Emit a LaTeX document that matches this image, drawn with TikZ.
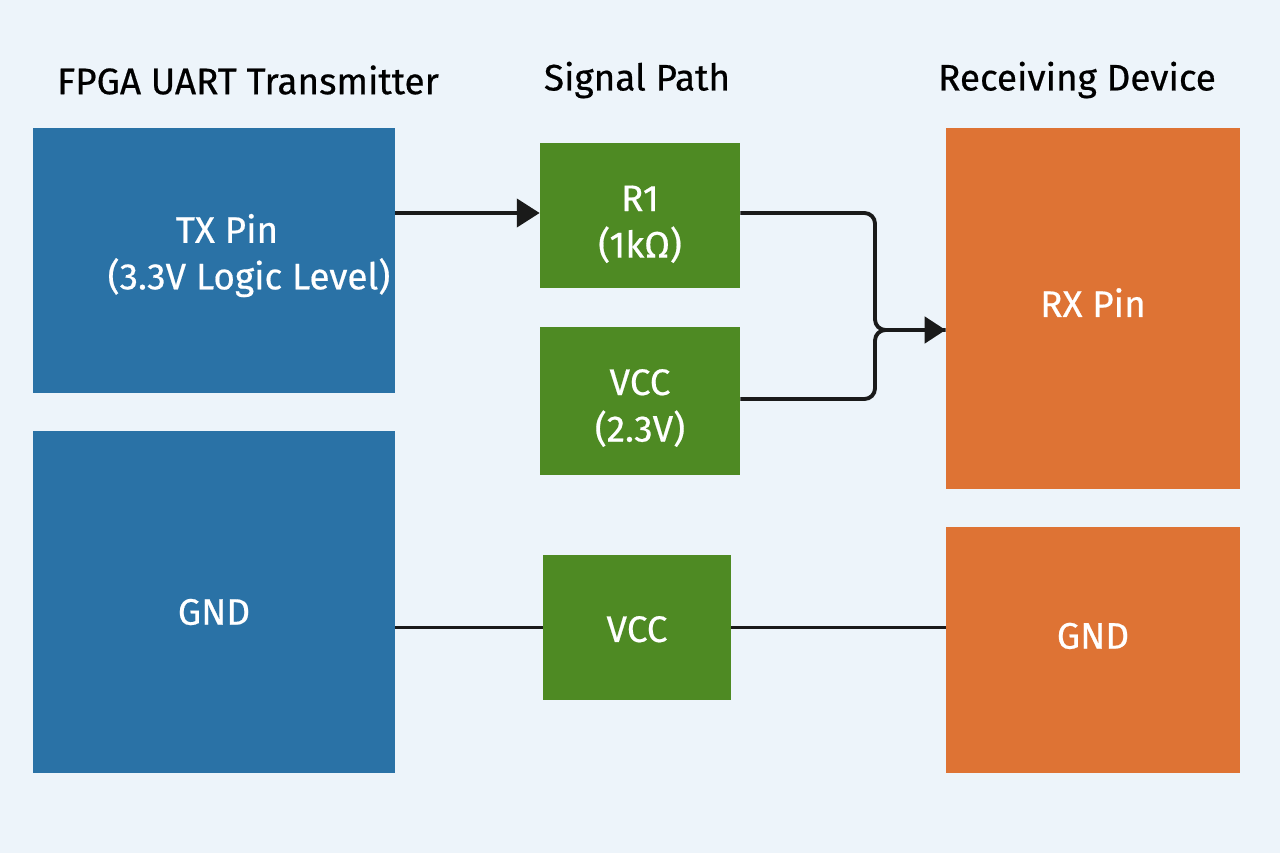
\documentclass[tikz,border=0pt]{standalone}
\usepackage{fontspec}
\setmainfont{Fira Sans}[FakeBold=0.5]
\usepackage{tikz}
\usepackage{xcolor}
\usetikzlibrary{arrows.meta,positioning}
\definecolor{bgblue}{HTML}{EDF4FA}
\definecolor{fpgablue}{HTML}{2A72A6}
\definecolor{pathgreen}{HTML}{4E8A23}
\definecolor{rxorange}{HTML}{DE7334}
\definecolor{wireblack}{HTML}{1A1A1A}
\tikzset{
    block/.style = {rectangle, inner sep=0pt},
    tx-block/.style = {block, fill=fpgablue},
    path-block/.style = {block, fill=pathgreen},
    rx-block/.style = {block, fill=rxorange},
    caption/.style = {text=white, align=center, font=\fontsize{21}{26.5}\selectfont},
    col-title/.style = {text=black, font=\fontsize{21}{25}\selectfont},
    wire/.style = {draw=wireblack, line width=2.2pt},
    wire-arrow/.style = {wire, -{Triangle[length=12pt,width=15pt]}},
}

\begin{document}
\begin{tikzpicture}
\fill[bgblue] (0,0) rectangle (25.6,-17.06);
\useasboundingbox (0,0) rectangle (25.6,-17.06);

% column titles
\node[col-title] (title-fpga) at (4.96,-1.6) {FPGA UART Transmitter};
\node[col-title] (title-path) at (12.74,-1.6) {Signal Path};
\node[col-title] (title-rx) at (21.54,-1.6) {Receiving Device};

% transmitter side
\node[tx-block, minimum width=7.24cm, minimum height=5.3cm,
      label={[caption, xshift=7.4pt, yshift=2.8pt]center:TX Pin\\\hspace*{25pt}(3.3V Logic Level)}] (tx) at (4.28,-5.21) {};
\node[tx-block, minimum width=7.24cm, minimum height=6.84cm,
      label={[caption, yshift=-5.7pt]center:GND}] (gnd-tx) at (4.28,-12.04) {};

% signal path
\node[path-block, minimum width=4cm, minimum height=2.9cm,
      label={[caption, yshift=-5pt]center:R1\\(1kΩ)}] (r1) at (12.8,-4.31) {};
\node[path-block, minimum width=4cm, minimum height=2.96cm,
      label={[caption, yshift=-4pt]center:VCC\\(2.3V)}] (vcc-top) at (12.8,-8.02) {};
\node[path-block, minimum width=3.76cm, minimum height=2.9cm,
      label={[caption, yshift=-1pt]center:VCC}] (vcc-bot) at (12.74,-12.55) {};

% receiving device
\node[rx-block, minimum width=5.88cm, minimum height=7.22cm,
      label={[caption, yshift=3.4pt]center:RX Pin}] (rx) at (21.86,-6.17) {};
\node[rx-block, minimum width=5.88cm, minimum height=4.92cm,
      label={[caption, yshift=8pt]center:GND}] (gnd-rx) at (21.86,-13.0) {};

% wires
\coordinate (join) at (17.5,-6.6);
\draw[wire-arrow, -{Triangle[length=13pt,width=16pt]}] (tx.east |- 0,-4.26) -- (r1.west |- 0,-4.26);
\draw[wire, rounded corners=6pt] (r1.east |- 0,-4.26) -| (join) -- (join -| rx.west);
\draw[wire-arrow, rounded corners=6pt] (vcc-top.east |- 0,-7.98) -| (join) -- (join -| rx.west);
\draw[wire] (gnd-tx.east |- vcc-bot.west) -- (vcc-bot.west);
\draw[wire] (vcc-bot.east) -- (vcc-bot.east -| gnd-rx.west);
\end{tikzpicture}
\end{document}
